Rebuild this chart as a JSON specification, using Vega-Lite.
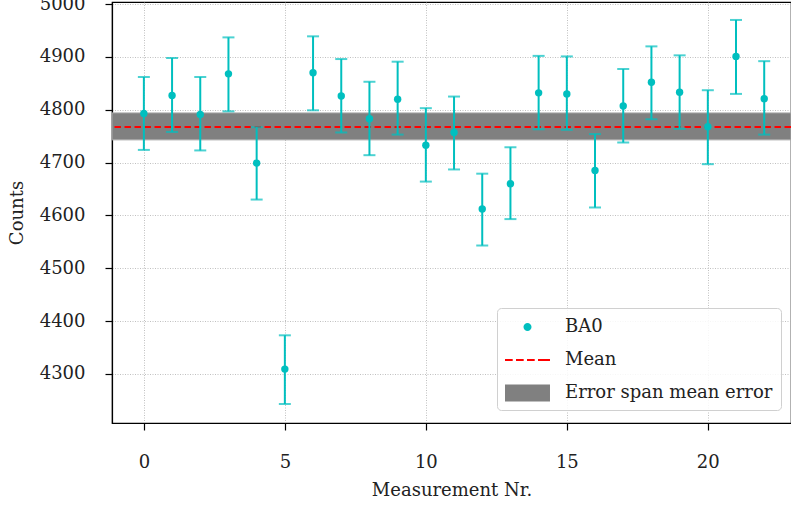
{
  "$schema": "https://vega.github.io/schema/vega-lite/v6.json",
  "autosize": {"type": "none"},
  "padding": {"left": 112, "top": 2, "right": 0, "bottom": 84},
  "width": 679,
  "height": 421,
  "config": {
    "font": "DejaVu Serif",
    "view": {"stroke": "black", "strokeWidth": 1.2},
    "axis": {
      "labelFont": "DejaVu Serif",
      "titleFont": "DejaVu Serif",
      "labelFontSize": 18,
      "titleFontSize": 18,
      "titleFontWeight": "normal",
      "labelColor": "#222",
      "titleColor": "#222",
      "domainColor": "black",
      "domainWidth": 1.2,
      "tickColor": "black",
      "tickWidth": 1.2,
      "tickSize": 7,
      "gridColor": "#b0b0b0",
      "gridDash": [1, 1.5],
      "gridWidth": 0.8
    }
  },
  "datasets": {
    "meas": [
      {"nr": 0, "counts": 4793, "lo": 4724, "hi": 4862, "series": "BA0"},
      {"nr": 1, "counts": 4827, "lo": 4758, "hi": 4898, "series": "BA0"},
      {"nr": 2, "counts": 4791, "lo": 4723, "hi": 4862, "series": "BA0"},
      {"nr": 3, "counts": 4868, "lo": 4797, "hi": 4937, "series": "BA0"},
      {"nr": 4, "counts": 4699, "lo": 4630, "hi": 4767, "series": "BA0"},
      {"nr": 5, "counts": 4309, "lo": 4243, "hi": 4373, "series": "BA0"},
      {"nr": 6, "counts": 4870, "lo": 4799, "hi": 4939, "series": "BA0"},
      {"nr": 7, "counts": 4826, "lo": 4757, "hi": 4896, "series": "BA0"},
      {"nr": 8, "counts": 4783, "lo": 4714, "hi": 4853, "series": "BA0"},
      {"nr": 9, "counts": 4820, "lo": 4753, "hi": 4891, "series": "BA0"},
      {"nr": 10, "counts": 4733, "lo": 4664, "hi": 4803, "series": "BA0"},
      {"nr": 11, "counts": 4757, "lo": 4687, "hi": 4825, "series": "BA0"},
      {"nr": 12, "counts": 4612, "lo": 4543, "hi": 4679, "series": "BA0"},
      {"nr": 13, "counts": 4660, "lo": 4593, "hi": 4729, "series": "BA0"},
      {"nr": 14, "counts": 4832, "lo": 4763, "hi": 4902, "series": "BA0"},
      {"nr": 15, "counts": 4830, "lo": 4762, "hi": 4901, "series": "BA0"},
      {"nr": 16, "counts": 4685, "lo": 4615, "hi": 4754, "series": "BA0"},
      {"nr": 17, "counts": 4807, "lo": 4738, "hi": 4877, "series": "BA0"},
      {"nr": 18, "counts": 4852, "lo": 4782, "hi": 4920, "series": "BA0"},
      {"nr": 19, "counts": 4833, "lo": 4764, "hi": 4903, "series": "BA0"},
      {"nr": 20, "counts": 4768, "lo": 4697, "hi": 4837, "series": "BA0"},
      {"nr": 21, "counts": 4901, "lo": 4830, "hi": 4970, "series": "BA0"},
      {"nr": 22, "counts": 4821, "lo": 4753, "hi": 4892, "series": "BA0"}
    ],
    "mean": [{"mean": 4767.5, "lo": 4743, "hi": 4794}]
  },
  "encoding": {
    "x": {
      "type": "quantitative",
      "scale": {"domain": [-1.13, 22.95], "nice": false, "zero": false},
      "axis": {"values": [0, 5, 10, 15, 20], "title": "Measurement Nr.", "labelPadding": 23, "titlePadding": 10}
    },
    "y": {
      "type": "quantitative",
      "scale": {"domain": [4207, 5004], "nice": false, "zero": false},
      "axis": {"values": [4300, 4400, 4500, 4600, 4700, 4800, 4900, 5000], "format": "d", "title": "Counts", "labelPadding": 20, "titlePadding": 13}
    }
  },
  "layer": [
    {
      "data": {"name": "mean"},
      "mark": {"type": "rect", "fill": "#808080", "stroke": "#a6a6a6", "strokeWidth": 1},
      "encoding": {
        "y": {"field": "lo", "type": "quantitative"},
        "y2": {"field": "hi"}
      }
    },
    {
      "data": {"name": "mean"},
      "mark": {"type": "rule", "color": "red", "strokeWidth": 2, "strokeDash": [6.5, 3.5]},
      "encoding": {
        "y": {"field": "mean", "type": "quantitative"}
      }
    },
    {
      "data": {"name": "meas"},
      "mark": {"type": "errorbar", "color": "#00bfbf", "thickness": 2, "ticks": {"size": 12, "thickness": 2, "color": "#00bfbf"}},
      "encoding": {
        "x": {"field": "nr", "type": "quantitative"},
        "y": {"field": "lo", "type": "quantitative"},
        "y2": {"field": "hi"}
      }
    },
    {
      "data": {"name": "meas"},
      "mark": {"type": "point", "filled": true, "opacity": 1, "size": 55, "shape": "circle", "color": "#00bfbf"},
      "encoding": {
        "x": {"field": "nr", "type": "quantitative"},
        "y": {"field": "counts", "type": "quantitative"}
      }
    },
    {
      "data": {"name": "meas"},
      "mark": {"type": "point", "filled": true, "opacity": 0},
      "encoding": {
        "x": {"field": "nr", "type": "quantitative"},
        "y": {"field": "counts", "type": "quantitative"},
        "color": {
          "field": "series",
          "type": "nominal",
          "scale": {"domain": ["BA0", "Mean", "Error span mean error"], "range": ["#00bfbf", "red", "#808080"]},
          "legend": {
            "title": null,
            "orient": "none",
            "legendX": 385,
            "legendY": 306,
            "padding": 8,
            "fillColor": "rgba(255,255,255,0.85)",
            "strokeColor": "#d0d0d0",
            "cornerRadius": 4,
            "labelFont": "DejaVu Serif",
            "labelFontSize": 18,
            "labelColor": "#222",
            "labelLimit": 0,
            "labelOffset": 38,
            "rowPadding": 13,
            "symbolSize": 484,
            "symbolStrokeWidth": 0,
            "symbolOpacity": 1
          }
        },
        "shape": {
          "field": "series",
          "type": "nominal",
          "scale": {
            "domain": ["BA0", "Mean", "Error span mean error"],
            "range": [
              "M0.68,0A0.365,0.365 0 1,0 1.41,0A0.365,0.365 0 1,0 0.68,0Z",
              "M-1,-0.09H-0.3V0.09H-1Z M0.0,-0.09H0.7V0.09H0.0Z M1.0,-0.09H1.7V0.09H1.0Z M2.0,-0.09H3.09V0.09H2.0Z",
              "M-1,-0.77H3.09V0.77H-1Z"
            ]
          },
          "legend": null
        }
      }
    }
  ]
}
